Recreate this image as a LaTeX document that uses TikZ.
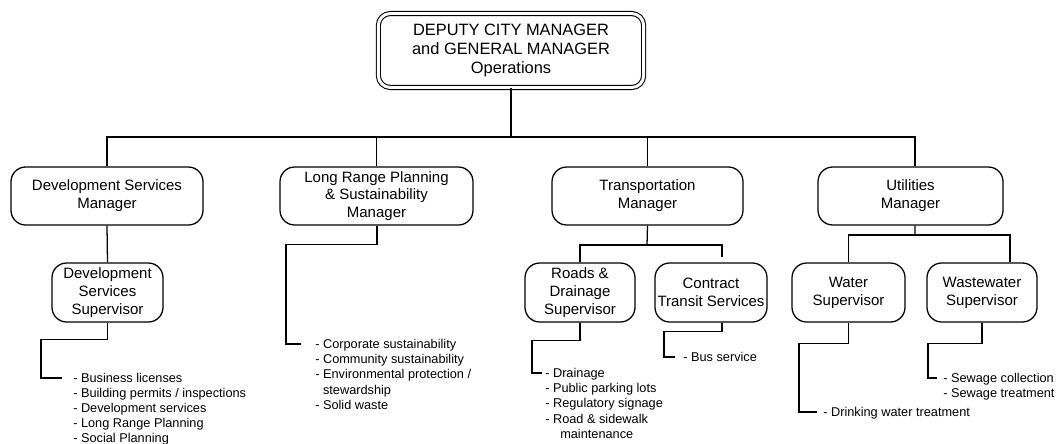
\documentclass[tikz,border=0pt]{standalone}
\usepackage{fontspec}
\setmainfont{Liberation Sans}
\usetikzlibrary{positioning}
\tikzset{
  box/.style={draw,rounded corners=11pt,align=center,inner sep=1pt,line width=0.95pt,font=\fontsize{11.25}{13.4}\selectfont},
  mgr/.style={box,minimum height=43.5pt},
  sup/.style={box,minimum height=44.25pt},
  duties/.style={anchor=north west,align=left,inner sep=0pt,font=\fontsize{9.56}{11.4}\selectfont},
  wire/.style={line width=0.95pt}
}
\begin{document}
\begin{tikzpicture}[x=0.75pt,y=-0.75pt]
        \useasboundingbox (0,0) rectangle (1059,443);
        %% top
        \node[draw,double,double distance=2.2pt,line width=0.8pt,rounded corners=9pt,minimum width=199pt,minimum height=55.5pt,align=center,inner sep=1pt,font=\fontsize{12.3}{14.3}\selectfont] (dcm) at (511,50.5) {DEPUTY CITY MANAGER\\and GENERAL MANAGER\\Operations};
        %% managers
        \node[mgr,minimum width=144pt] (dsm) at (107,196) {Development Services\\Manager};
        \node[mgr,minimum width=144.75pt] (lrp) at (376.5,196) {Long Range Planning\\\& Sustainability\\Manager};
        \node[mgr,minimum width=143.25pt] (tm) at (647.5,196) {Transportation\\Manager};
        \node[mgr,minimum width=138.75pt] (um) at (910.5,196) {Utilities\\Manager};
        %% supervisors
        \node[sup,minimum width=83.25pt] (dss) at (107.5,292.5) {Development\\Services\\Supervisor};
        \node[sup,minimum width=82.5pt] (rds) at (580,292.5) {Roads \&\\Drainage\\Supervisor};
        \node[sup,minimum width=84pt] (cts) at (711,292.5) {Contract\\Transit Services};
        \node[sup,minimum width=84.75pt] (ws) at (848.5,292.5) {Water\\Supervisor};
        \node[sup,minimum width=82.5pt] (wws) at (982,292.5) {Wastewater\\Supervisor};
        %% connect
        \coordinate (bus) at (511,137);
        \coordinate (tbus) at (647,245);
        \coordinate (ubus) at (915,235);
        \draw[wire] (dcm.south) -- (bus);
        \draw[wire] (dsm.north) |- (bus) -| ([xshift=3.4pt]um.north);
        \draw[wire] (lrp.north) -- (lrp.north |- bus);
        \draw[wire] (tm.north) -- (tm.north |- bus);
        \draw[wire] (dsm.south) -- (dss.north);
        \draw[wire] (tm.south) -- (tbus);
        \draw[wire] (rds.north) |- (tbus) -| ([xshift=8.25pt,yshift=3.75pt]cts.north);
        \draw[wire] ([xshift=3.4pt]um.south) -- (ubus);
        \draw[wire] (ws.north) |- (ubus) -| ([xshift=21pt]wws.north);
        %% duty lists
        \coordinate (dsl) at (62,378);
        \coordinate (lrl) at (301,344);
        \coordinate (rdl) at (542,373);
        \coordinate (ctl) at (675,357);
        \coordinate (wsl) at (817,412);
        \coordinate (wwl) at (937,378);
        \draw[wire] (dss.south) -- ++(0,17) -- ++(-66.5,0) |- (dsl);
        \draw[wire] ([xshift=0.4pt]lrp.south) -- ++(0,19) -- ++(-91,0) |- (lrl);
        \draw[wire] (rds.south) -- ++(0,18) -- ++(-48,0) |- (rdl);
        \draw[wire] ([xshift=8.25pt]cts.south) -- ++(0,9) -- ++(-58,0) |- (ctl);
        \draw[wire] (ws.south) -- ++(0,21) -- ++(-49.5,0) |- (wsl);
        \draw[wire] (wws.south) -- ++(0,21) -- ++(-54,0) |- (wwl);
        \node[duties] (dsd) at (73,372.5) {- Business licenses\\- Building permits / inspections\\- Development services\\- Long Range Planning\\- Social Planning};
        \node[duties] (lrd) at (315,339) {- Corporate sustainability\\- Community sustainability\\- Environmental protection /\\\hphantom{-~}stewardship\\- Solid waste};
        \node[duties] (rdd) at (545,368) {- Drainage\\- Public parking lots\\- Regulatory signage\\- Road \& sidewalk\\\hspace*{11.25pt}maintenance};
        \node[duties] (ctd) at (683,352) {- Bus service};
        \node[duties] (wsd) at (823,407) {- Drinking water treatment};
        \node[duties] (wwd) at (943,373) {- Sewage collection\\- Sewage treatment};
    \end{tikzpicture}
\end{document}
